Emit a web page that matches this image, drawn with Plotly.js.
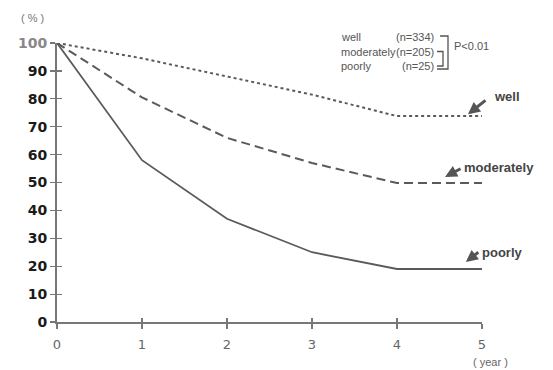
<!DOCTYPE html>
<html>
<head>
<meta charset="utf-8">
<script src="https://cdn.plot.ly/plotly-3.0.1.min.js"></script>
<style>html,body{margin:0;padding:0;background:#fff;}#chart{width:553px;height:370px;}</style>
</head>
<body>
<div id="chart"></div>
<script>
// Data
const years = [0, 1, 2, 3, 4, 5];
const well = [100, 94.5, 88, 81.5, 73.8, 73.8];
const moderately = [100, 80.5, 66, 57, 49.8, 49.8];
const poorly = [100, 58, 37, 25, 19, 19];
const yTicks = [0, 10, 20, 30, 40, 50, 60, 70, 80, 90, 100];
const xTicks = [0, 1, 2, 3, 4, 5];
const groupNames = ["well", "moderately", "poorly"];
const groupN = ["(n=334)", "(n=205)", "(n=25)"];

const W = 553, H = 370, L = 57, R = 71, T = 43, B = 48;
const pw = W - L - R, ph = H - T - B;
const px = x => (x - L) / pw;          // pixel -> paper
const py = y => (H - B - y) / ph;

const lineColor = '#5a5a5a';
const traces = [
  {x: years, y: well, mode: 'lines', line: {color: lineColor, width: 2, dash: '3px,3px'}, name: 'well'},
  {x: years, y: moderately, mode: 'lines', line: {color: lineColor, width: 2, dash: '9px,5px'}, name: 'moderately'},
  {x: years, y: poorly, mode: 'lines', line: {color: lineColor, width: 1.8}, name: 'poorly'},
  {x: years, y: poorly, xaxis: 'x2', yaxis: 'y2', mode: 'lines', opacity: 0, hoverinfo: 'skip', showlegend: false}
];

const labelFont = {family: 'Liberation Sans, Arial, sans-serif', size: 13, color: '#444'};
const arrowStyle = {text: '', showarrow: true, arrowhead: 2, arrowsize: 0.8, arrowwidth: 3, arrowcolor: '#555', standoff: 0, xref: 'x', yref: 'y'};
const ann = [];
// arrows
ann.push(Object.assign({x: 4.835, y: 74.5, ax: 19, ay: -15}, arrowStyle));
ann.push(Object.assign({x: 4.565, y: 52, ax: 17, ay: -9}, arrowStyle));
ann.push(Object.assign({x: 4.81, y: 21.5, ax: 14, ay: -11}, arrowStyle));
// labels
ann.push({x: px(492), y: py(96), xref: 'paper', yref: 'paper', text: '<b>well</b>', showarrow: false, xanchor: 'left', yanchor: 'middle', font: labelFont});
ann.push({x: px(462), y: py(167), xref: 'paper', yref: 'paper', text: '<b>moderately</b>', showarrow: false, xanchor: 'left', yanchor: 'middle', font: labelFont});
ann.push({x: px(480), y: py(252), xref: 'paper', yref: 'paper', text: '<b>poorly</b>', showarrow: false, xanchor: 'left', yanchor: 'middle', font: labelFont});

// Legend block
const rowsY = [37, 51.5, 66];
const smallFont = {family: 'Liberation Sans, Arial, sans-serif', size: 11, color: '#555'};
groupNames.forEach((g, i) => {
  ann.push({x: px(339), y: py(rowsY[i]), xref: 'paper', yref: 'paper', text: g, showarrow: false,
    xanchor: 'left', yanchor: 'middle', font: smallFont});
  ann.push({x: px(436), y: py(rowsY[i]), xref: 'paper', yref: 'paper', text: groupN[i], showarrow: false,
    xanchor: 'right', yanchor: 'middle', font: smallFont});
});
ann.push({x: px(452), y: py(46), xref: 'paper', yref: 'paper', text: 'P<0.01', showarrow: false,
  xanchor: 'left', yanchor: 'middle', font: smallFont});
// Axis unit labels
ann.push({x: px(32), y: py(18), xref: 'paper', yref: 'paper', text: '( % )', showarrow: false,
  xanchor: 'center', yanchor: 'middle', font: {family: 'Liberation Sans, Arial, sans-serif', size: 11, color: '#777'}});
ann.push({x: px(490), y: py(362), xref: 'paper', yref: 'paper', text: '( year )', showarrow: false,
  xanchor: 'center', yanchor: 'middle', font: {family: 'Liberation Sans, Arial, sans-serif', size: 11, color: '#666'}});

const path = pts => 'M ' + pts.map(p => px(p[0]) + ' ' + py(p[1])).join(' L ');
const shapes = [
  {type: 'path', xref: 'paper', yref: 'paper', path: path([[440, 36], [448, 36], [448, 69], [437, 69]]),
   line: {color: '#555', width: 1.3}},
  {type: 'path', xref: 'paper', yref: 'paper', path: path([[437, 51.5], [443, 51.5], [443, 66], [437, 66]]),
   line: {color: '#555', width: 1.3}}
];

const yText = yTicks.map(v => v === 100 ? '<span style="color:#888">' + v + '</span>' : String(v));

const layout = {
  width: W, height: H,
  margin: {l: L, r: R, t: T, b: B, pad: 0},
  paper_bgcolor: '#fff', plot_bgcolor: '#fff',
  showlegend: false,
  xaxis: {range: [0, 5], tickvals: xTicks, ticktext: xTicks.map(String), showgrid: false, zeroline: false,
    showline: true, linecolor: '#777', linewidth: 2, ticks: 'outside', ticklen: 5, tickwidth: 1.2, tickcolor: '#777',
    ticklabelstandoff: 4,
    tickfont: {family: 'DejaVu Sans, sans-serif', size: 13, color: '#666'}, fixedrange: true},
  yaxis: {range: [0, 100], tickvals: yTicks, ticktext: yText, showgrid: false, zeroline: false,
    showline: true, linecolor: '#777', linewidth: 2, ticks: 'outside', ticklen: 5, tickwidth: 1.2, tickcolor: '#777',
    tickfont: {family: 'DejaVu Sans, sans-serif', size: 14, color: '#1a1a1a', weight: 'bold'}, fixedrange: true},
  xaxis2: {overlaying: 'x', range: [0, 5], tickvals: xTicks, showticklabels: false, showgrid: false, zeroline: false,
    showline: false, ticks: 'inside', ticklen: 4, tickwidth: 1.2, tickcolor: '#777', side: 'bottom'},
  yaxis2: {overlaying: 'y', range: [0, 100], tickvals: yTicks, showticklabels: false, showgrid: false, zeroline: false,
    showline: false, ticks: 'inside', ticklen: 5, tickwidth: 1.2, tickcolor: '#777', side: 'left'},
  annotations: ann,
  shapes: shapes
};

Plotly.newPlot('chart', traces, layout, {displayModeBar: false, staticPlot: true});
</script>
</body>
</html>
